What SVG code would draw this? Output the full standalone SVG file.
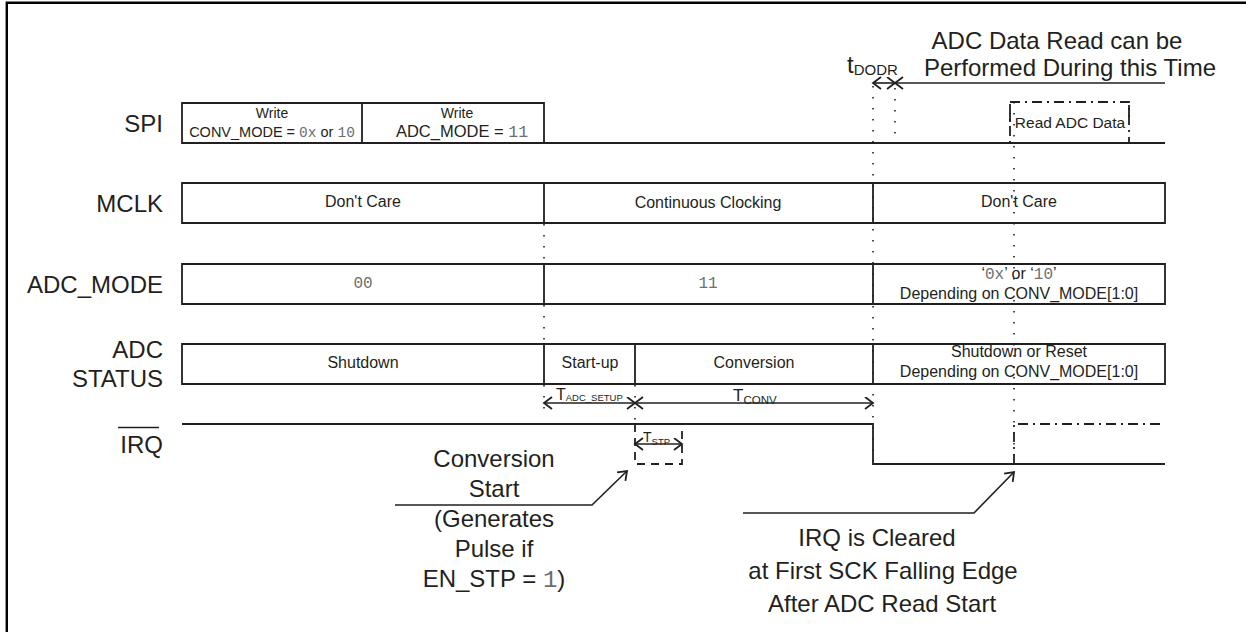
<svg xmlns="http://www.w3.org/2000/svg" width="1246" height="632" viewBox="0 0 1246 632">
<style>
text{font-family:"Liberation Sans",Arial,sans-serif;fill:#231f20}
.lbl{font-size:24px;text-anchor:end}
.big{font-size:24px;text-anchor:middle}
.box{fill:none;stroke:#231f20;stroke-width:1.8}
.ln{fill:none;stroke:#231f20;stroke-width:1.8}
.cell{font-size:16px;text-anchor:middle}
.mono{font-family:"Liberation Mono","Courier New",monospace;fill:#6d6e71}
.dot{fill:none;stroke:#231f20;stroke-width:1.6;stroke-dasharray:1.5 9.5}
.dd{fill:none;stroke:#231f20;stroke-width:1.8;stroke-dasharray:10 5 2 5}
.dash{fill:none;stroke:#231f20;stroke-width:1.8;stroke-dasharray:8 6}
.arr{fill:none;stroke:#231f20;stroke-width:1.6}
</style>
<defs>
<marker id="chev" markerUnits="userSpaceOnUse" markerWidth="12" markerHeight="14" refX="9" refY="6.5" orient="auto-start-reverse" viewBox="0 0 12 14">
<path d="M1,0.5 L9,6.5 L1,12.5" fill="none" stroke="#231f20" stroke-width="1.8"/>
</marker>
</defs>
<rect width="1246" height="632" fill="#fff"/>
<path d="M6.8,632 V2.8 H1246" fill="none" stroke="#000" stroke-width="2.4"/>

<g id="labels">
<text class="lbl" x="163" y="132">SPI</text>
<text class="lbl" x="163" y="212">MCLK</text>
<text class="lbl" x="163" y="293">ADC_MODE</text>
<text class="lbl" x="163" y="358">ADC</text>
<text class="lbl" x="163" y="387">STATUS</text>
<text class="lbl" x="163" y="453">IRQ</text>
<line x1="118" y1="427.5" x2="159" y2="427.5" stroke="#231f20" stroke-width="1.6"/>
</g>

<g id="spi">
<path class="box" d="M182,103 H544 V143 H182 Z M362,103 V143 M544,143 H1165"/>
<text x="272" y="118" font-size="14" text-anchor="middle">Write</text>
<text x="272" y="137" font-size="14.5" text-anchor="middle">CONV_MODE = <tspan class="mono">0x</tspan> or <tspan class="mono">10</tspan></text>
<text x="457" y="118" font-size="14" text-anchor="middle">Write</text>
<text x="462" y="137" font-size="16.5" text-anchor="middle">ADC_MODE = <tspan class="mono">11</tspan></text>
<rect class="dd" x="1010" y="102" width="119" height="41"/>
<path class="ln" d="M1010,113 V122 M1129,105 V117"/>
<text x="1070" y="128" font-size="15.5" text-anchor="middle">Read ADC Data</text>
</g>

<g id="mclk">
<path class="box" d="M182,183 H1165 V223 H182 Z M544,183 V223 M873,183 V223"/>
<text class="cell" x="363" y="207">Don't Care</text>
<text class="cell" x="708" y="208">Continuous Clocking</text>
<text class="cell" x="1019" y="207">Don't Care</text>
</g>

<g id="adc_mode">
<path class="box" d="M182,264 H1165 V304 H182 Z M544,264 V304 M873,264 V304"/>
<text class="cell mono" x="363" y="288">00</text>
<text class="cell mono" x="708" y="288">11</text>
<text class="cell" x="1019" y="279">‘<tspan class="mono">0x</tspan>’ or ‘<tspan class="mono">10</tspan>’</text>
<text class="cell" x="1019" y="299">Depending on CONV_MODE[1:0]</text>
</g>

<g id="adc_status">
<path class="box" d="M182,344 H1165 V384 H182 Z M544,344 V384 M635,344 V384 M873,344 V384"/>
<text class="cell" x="363" y="368">Shutdown</text>
<text class="cell" x="590" y="368">Start-up</text>
<text class="cell" x="754" y="368">Conversion</text>
<text class="cell" x="1019" y="357">Shutdown or Reset</text>
<text class="cell" x="1019" y="377">Depending on CONV_MODE[1:0]</text>
</g>

<g id="irq">
<path class="ln" d="M182,424 H873 V464 H1165"/>
<path class="dash" d="M635,424 V464 H682 V424"/>
<path class="dd" d="M1014,464 V424 H1165"/>
</g>

<g id="guides">
<path class="dot" d="M544,224 V264 M544,305 V344 M544,385 V412 M635,385 V424 M873,86 V464 M895,88 V143 M1014,102 V464"/>
</g>

<g id="connectors">
<line class="arr" x1="873" y1="83" x2="895" y2="83" marker-start="url(#chev)" marker-end="url(#chev)"/>
<line class="arr" x1="895" y1="83" x2="1165" y2="83" marker-start="url(#chev)"/>
<line class="arr" x1="544" y1="403" x2="635" y2="403" marker-start="url(#chev)" marker-end="url(#chev)"/>
<line class="arr" x1="635" y1="403" x2="873" y2="403" marker-start="url(#chev)" marker-end="url(#chev)"/>
<line class="arr" x1="635" y1="444" x2="682" y2="444" marker-start="url(#chev)" marker-end="url(#chev)"/>
<polyline class="arr" points="395,505 592,505 627,471" marker-end="url(#chev)"/>
<polyline class="arr" points="743,513 974,513 1014,472" marker-end="url(#chev)"/>
</g>

<g id="timing-labels">
<text x="847" y="73" font-size="24">t<tspan font-size="15" dy="2">DODR</tspan></text>
<text x="556" y="400" font-size="16">T<tspan font-size="9.5" dy="1">ADC_SETUP</tspan></text>
<text x="733" y="401" font-size="17">T<tspan font-size="11.5" dy="3">CONV</tspan></text>
<text x="643" y="442" font-size="14">T<tspan font-size="9.5" dy="3">STP</tspan></text>
</g>

<g id="notes">
<text class="big" x="1057" y="49">ADC Data Read can be</text>
<text class="big" x="1070" y="76">Performed During this Time</text>
<text class="big" x="494" y="467">Conversion</text>
<text class="big" x="494" y="497">Start</text>
<text class="big" x="494" y="527">(Generates</text>
<text class="big" x="494" y="557">Pulse if</text>
<text class="big" x="494" y="587">EN_STP = <tspan class="mono">1</tspan>)</text>
<text class="big" x="877" y="546">IRQ is Cleared</text>
<text class="big" x="883" y="579">at First SCK Falling Edge</text>
<text class="big" x="882" y="612">After ADC Read Start</text>
</g>
</svg>
